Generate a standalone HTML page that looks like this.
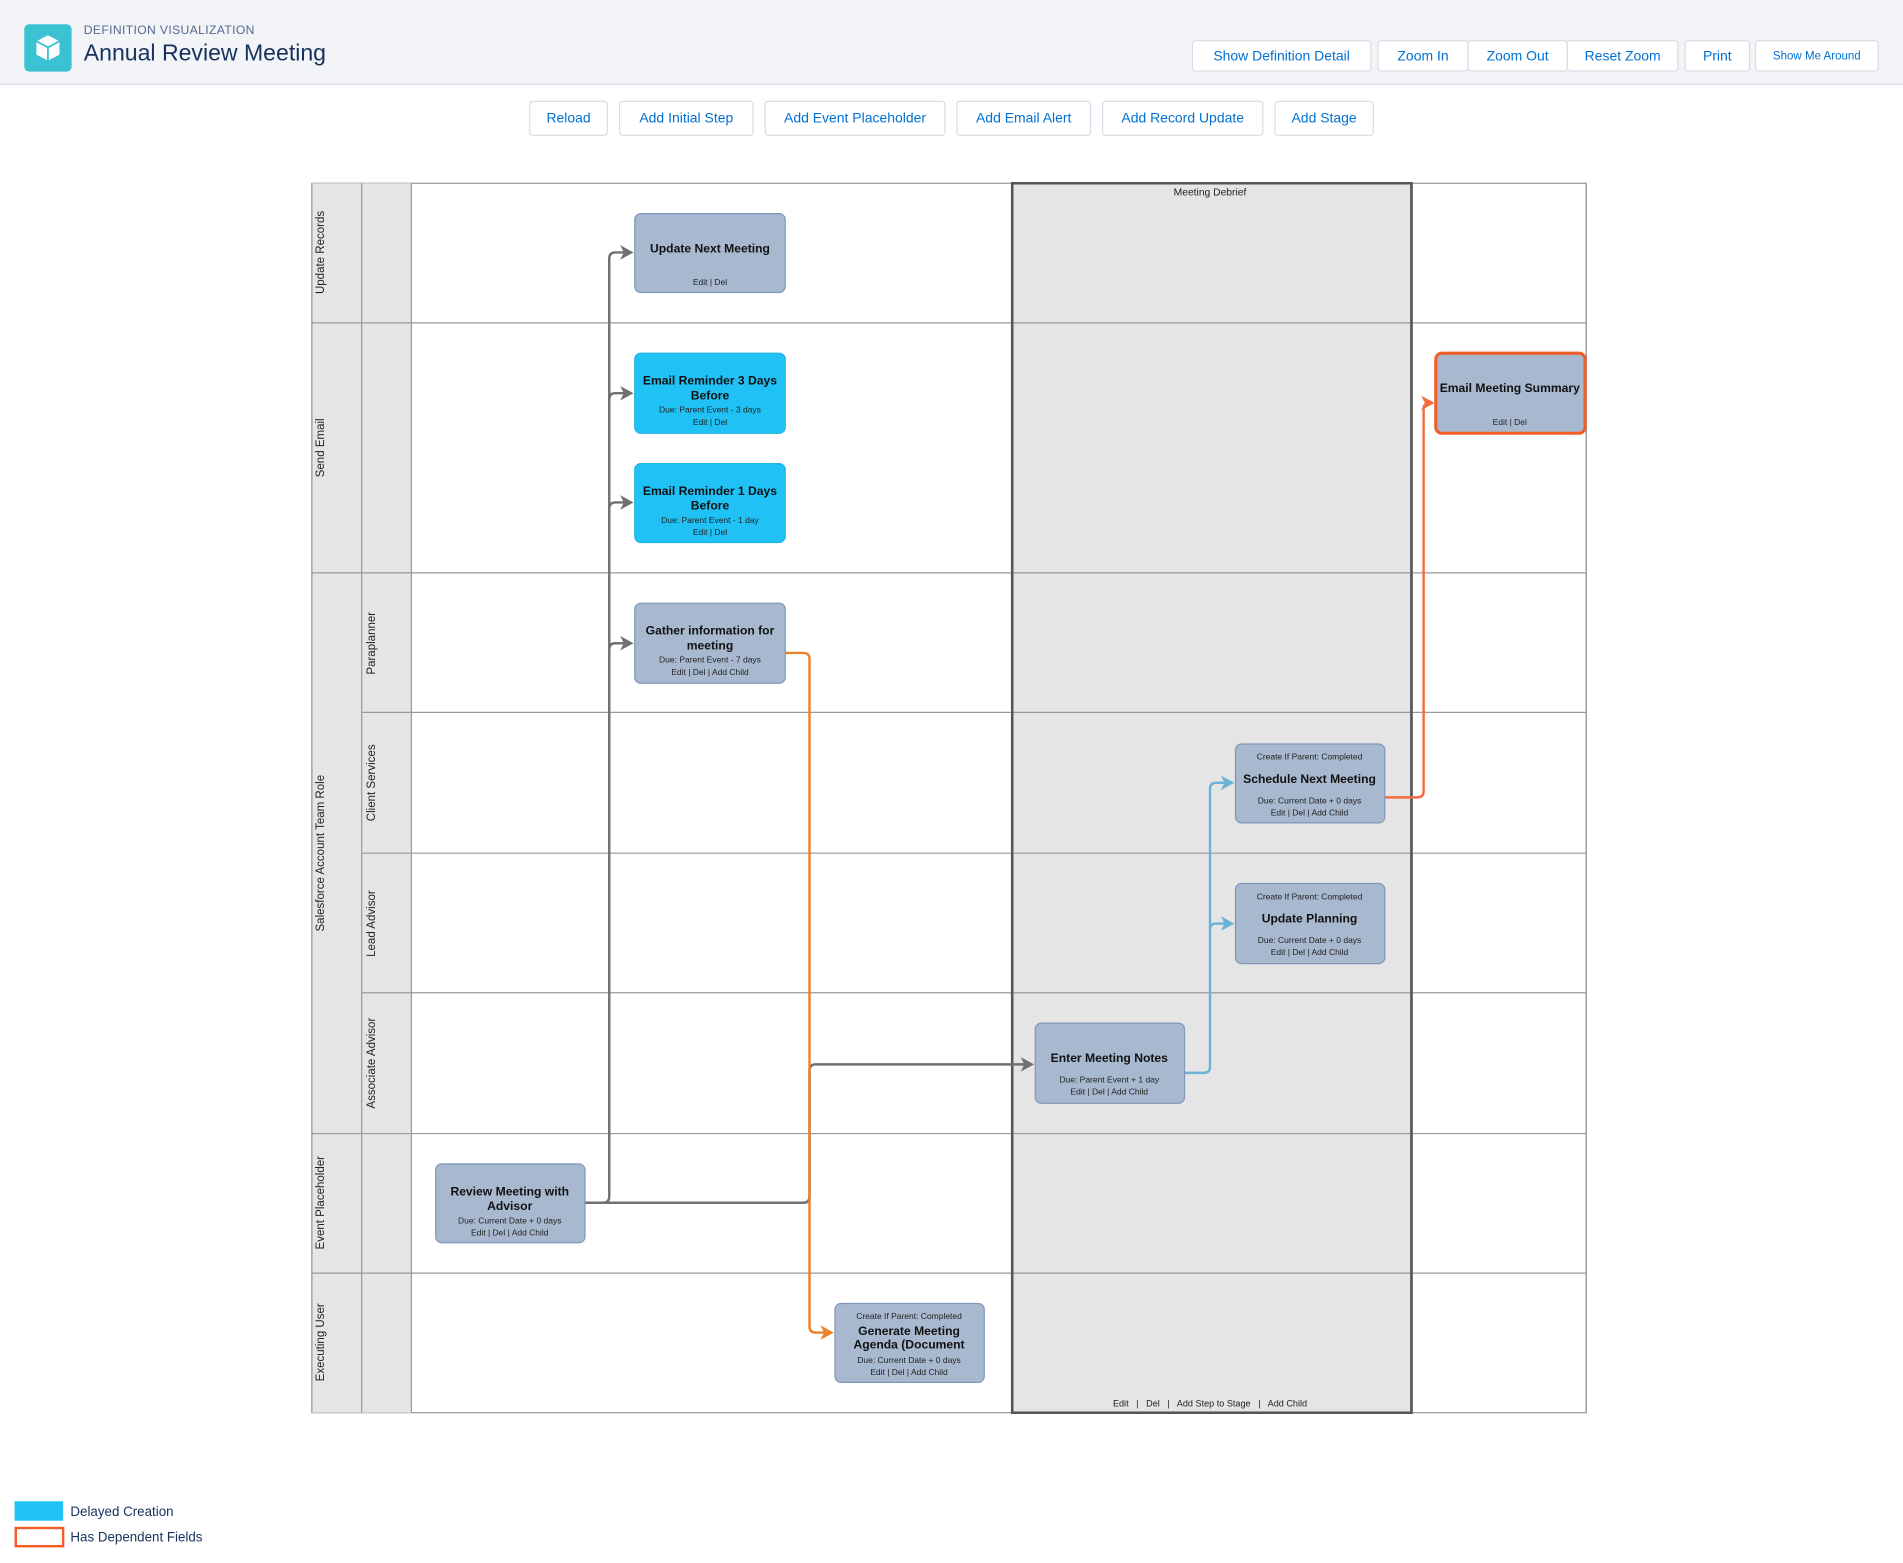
<!DOCTYPE html>
<html><head><meta charset="utf-8"><style>
html,body{margin:0;padding:0;width:1903px;height:1563px;overflow:hidden;background:#fff;font-family:"Liberation Sans",sans-serif}
#w{position:absolute;left:0;top:0;width:1568px;height:1288px;transform:scale(1.21365);transform-origin:0 0}
.hdr{position:absolute;left:0;top:0;width:1568px;height:69px;background:#f3f4f7;border-bottom:1px solid #d8dde6}
.btn{position:absolute;height:26px;line-height:26px;border:1px solid #d8dde6;background:#fff;color:#0070d2;font-size:11.5px;text-align:center;border-radius:3px;box-sizing:border-box}
.lg{position:absolute;font-size:11px;color:#16325c}
</style></head><body><div id="w">
<div class="hdr"></div>
<div style="position:absolute;left:20px;top:20px;width:39px;height:39px;background:#3bc2d2;border-radius:4px"></div>
<svg style="position:absolute;left:20px;top:20px" width="39" height="39"><path d="M19.5 9 L29 14 L29 25 L19.5 30 L10 25 L10 14Z" fill="#fff"/><path d="M10 14 L19.5 19 L29 14 M19.5 19 V30" stroke="#3bc2d2" stroke-width="1.5" fill="none"/></svg>
<div style="position:absolute;left:69px;top:20px;font-size:10px;color:#54698d;letter-spacing:.3px">DEFINITION VISUALIZATION</div>
<div style="position:absolute;left:69px;top:34px;font-size:19px;color:#16325c">Annual Review Meeting</div>
<div class="btn" style="left:982px;top:33px;width:148px">Show Definition Detail</div>
<div class="btn" style="left:1135px;top:33px;width:75px">Zoom In</div>
<div class="btn" style="left:1209px;top:33px;width:83px">Zoom Out</div>
<div class="btn" style="left:1291px;top:33px;width:92px">Reset Zoom</div>
<div class="btn" style="left:1388px;top:33px;width:54px">Print</div>
<div class="btn" style="left:1446px;top:33px;width:102px;font-size:9.5px">Show Me Around</div>
<div class="btn" style="left:436px;top:83px;width:65px;height:29px;line-height:29px">Reload</div>
<div class="btn" style="left:510px;top:83px;width:111px;height:29px;line-height:29px">Add Initial Step</div>
<div class="btn" style="left:630px;top:83px;width:149px;height:29px;line-height:29px">Add Event Placeholder</div>
<div class="btn" style="left:788px;top:83px;width:111px;height:29px;line-height:29px">Add Email Alert</div>
<div class="btn" style="left:908px;top:83px;width:133px;height:29px;line-height:29px">Add Record Update</div>
<div class="btn" style="left:1050px;top:83px;width:82px;height:29px;line-height:29px">Add Stage</div>

<svg style="position:absolute;left:0;top:0" width="1568" height="1288" font-family="Liberation Sans, sans-serif">
<rect x="257" y="151" width="1050" height="1013" fill="#fff" stroke="#999"/>
<rect x="257" y="151" width="41" height="1013" fill="#e5e5e5"/>
<rect x="298" y="151" width="41" height="1013" fill="#e5e5e5"/>
<rect x="834" y="151" width="329" height="1013" fill="#e5e5e5" stroke="#555" stroke-width="2"/>
<g stroke="#999" stroke-width="1">
<line x1="298" y1="151" x2="298" y2="1164"/><line x1="339" y1="151" x2="339" y2="1164"/>
<line x1="257" y1="266" x2="1307" y2="266"/><line x1="257" y1="472" x2="1307" y2="472"/>
<line x1="298" y1="587" x2="1307" y2="587"/><line x1="298" y1="703" x2="1307" y2="703"/>
<line x1="298" y1="818" x2="1307" y2="818"/><line x1="257" y1="934" x2="1307" y2="934"/>
<line x1="257" y1="1049" x2="1307" y2="1049"/>
<line x1="257" y1="151" x2="257" y2="1164"/><line x1="1307" y1="151" x2="1307" y2="1164"/>
</g>
<rect x="834" y="151" width="329" height="1013" fill="none" stroke="#555" stroke-width="2"/>
<text x="997" y="161" font-size="8.5" text-anchor="middle" fill="#222">Meeting Debrief</text>
<text x="997" y="1159" font-size="7.5" text-anchor="middle" fill="#222" xml:space="preserve">Edit   |   Del   |   Add Step to Stage   |   Add Child</text>
<g font-size="9.5" fill="#222" text-anchor="middle">
<text transform="translate(267,208) rotate(-90)">Update Records</text>
<text transform="translate(267,369) rotate(-90)">Send Email</text>
<text transform="translate(267,703) rotate(-90)">Salesforce Account Team Role</text>
<text transform="translate(267,991) rotate(-90)">Event Placeholder</text>
<text transform="translate(267,1106) rotate(-90)">Executing User</text>
<text transform="translate(309,530) rotate(-90)">Paraplanner</text>
<text transform="translate(309,645) rotate(-90)">Client Services</text>
<text transform="translate(309,761) rotate(-90)">Lead Advisor</text>
<text transform="translate(309,876) rotate(-90)">Associate Advisor</text>
</g>
<g fill="none" stroke-width="2">
<path d="M482 991 H497 Q502 991 502 986 V213 Q502 208 507 208 H516" stroke="#707070"/>
<path d="M502 329 Q502 324 507 324 H516" stroke="#707070"/>
<path d="M502 419 Q502 414 507 414 H516" stroke="#707070"/>
<path d="M502 535 Q502 530 507 530 H516" stroke="#707070"/>
<path d="M482 991 H662 Q667 991 667 986 V882 Q667 877 672 877 H846" stroke="#707070"/>
<path d="M647 538 H662 Q667 538 667 543 V1093 Q667 1098 672 1098 H682" stroke="#e8832a"/>
<path d="M976 884 H992 Q997 884 997 879 V650 Q997 645 1002 645 H1012" stroke="#6ab2d6"/>
<path d="M997 766 Q997 761 1002 761 H1012" stroke="#6ab2d6"/>
<path d="M1141 657 H1168 Q1173 657 1173 652 V337 Q1173 332 1178 332 H1178" stroke="#f26c3f"/>
</g>
<g fill="#707070">
<path d="M511 202 L522 208 L511 214 L514 208Z"/>
<path d="M511 318 L522 324 L511 330 L514 324Z"/>
<path d="M511 408 L522 414 L511 420 L514 414Z"/>
<path d="M511 524 L522 530 L511 536 L514 530Z"/>
<path d="M841 871 L852 877 L841 883 L844 877Z"/>
</g>
<path d="M676 1092 L687 1098 L676 1104 L679 1098Z" fill="#e8832a"/>
<path d="M1006 639 L1017 645 L1006 651 L1009 645Z" fill="#6ab2d6"/>
<path d="M1006 755 L1017 761 L1006 767 L1009 761Z" fill="#6ab2d6"/>
<path d="M1171 326 L1182 332 L1171 338 L1174 332Z" fill="#f26c3f"/>
<g stroke="#7f97b8" stroke-width="1">
<rect x="523" y="176" width="124" height="65" rx="5" fill="#a7b8cf"/>
<rect x="523" y="291" width="124" height="66" rx="5" fill="#20c1f5" stroke="#20b4e5"/>
<rect x="523" y="382" width="124" height="65" rx="5" fill="#20c1f5" stroke="#20b4e5"/>
<rect x="523" y="497" width="124" height="66" rx="5" fill="#a7b8cf"/>
<rect x="1018" y="613" width="123" height="65" rx="5" fill="#a7b8cf"/>
<rect x="1018" y="728" width="123" height="66" rx="5" fill="#a7b8cf"/>
<rect x="853" y="843" width="123" height="66" rx="5" fill="#a7b8cf"/>
<rect x="359" y="959" width="123" height="65" rx="5" fill="#a7b8cf"/>
<rect x="688" y="1074" width="123" height="65" rx="5" fill="#a7b8cf"/>
<rect x="1183" y="291" width="123" height="66" rx="5" fill="#a7b8cf" stroke="#f25c26" stroke-width="2.5"/>
</g>
<g text-anchor="middle" fill="#111">
<g font-size="10" font-weight="bold">
<text x="585" y="208">Update Next Meeting</text>
<text x="585" y="317">Email Reminder 3 Days</text><text x="585" y="329">Before</text>
<text x="585" y="408">Email Reminder 1 Days</text><text x="585" y="420">Before</text>
<text x="585" y="523">Gather information for</text><text x="585" y="535">meeting</text>
<text x="1079" y="645">Schedule Next Meeting</text>
<text x="1079" y="760">Update Planning</text>
<text x="914" y="875">Enter Meeting Notes</text>
<text x="420" y="985">Review Meeting with</text><text x="420" y="997">Advisor</text>
<text x="749" y="1100">Generate Meeting</text><text x="749" y="1111">Agenda (Document</text>
<text x="1244" y="323">Email Meeting Summary</text>
</g>
<g font-size="7" fill="#222">
<text x="585" y="235">Edit | Del</text>
<text x="585" y="340">Due: Parent Event - 3 days</text><text x="585" y="350">Edit | Del</text>
<text x="585" y="431">Due: Parent Event - 1 day</text><text x="585" y="441">Edit | Del</text>
<text x="585" y="546">Due: Parent Event - 7 days</text><text x="585" y="556">Edit | Del | Add Child</text>
<text x="1079" y="626">Create If Parent: Completed</text>
<text x="1079" y="662">Due: Current Date + 0 days</text><text x="1079" y="672">Edit | Del | Add Child</text>
<text x="1079" y="741">Create If Parent: Completed</text>
<text x="1079" y="777">Due: Current Date + 0 days</text><text x="1079" y="787">Edit | Del | Add Child</text>
<text x="914" y="892">Due: Parent Event + 1 day</text><text x="914" y="902">Edit | Del | Add Child</text>
<text x="420" y="1008">Due: Current Date + 0 days</text><text x="420" y="1018">Edit | Del | Add Child</text>
<text x="749" y="1087">Create If Parent: Completed</text>
<text x="749" y="1123">Due: Current Date + 0 days</text><text x="749" y="1133">Edit | Del | Add Child</text>
<text x="1244" y="350">Edit | Del</text>
</g>
</g>
<rect x="12" y="1237" width="40" height="16" fill="#20c1f5"/>
<rect x="13" y="1259" width="39" height="15" fill="#fff" stroke="#f25c26" stroke-width="2"/>
</svg>
<div class="lg" style="left:58px;top:1240px">Delayed Creation</div>
<div class="lg" style="left:58px;top:1261px">Has Dependent Fields</div>
</div></body></html>
